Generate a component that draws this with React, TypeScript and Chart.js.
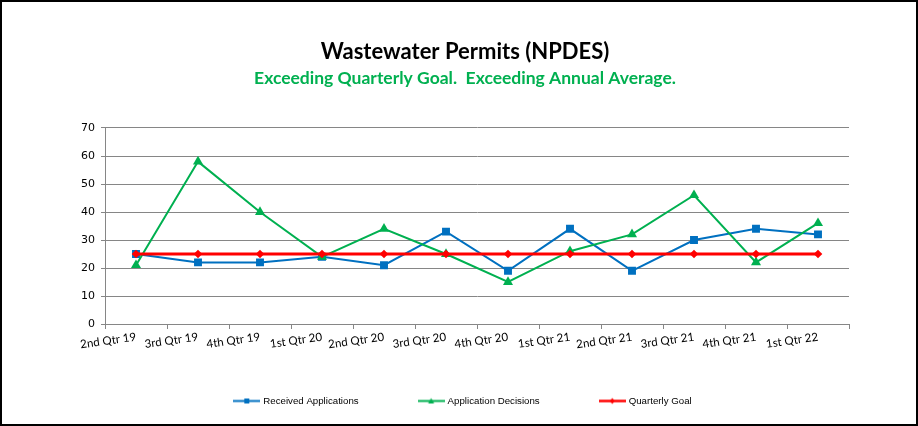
import React, { useEffect, useRef } from 'react';
import { Chart, registerables } from 'chart.js';

Chart.register(...registerables);

const categories = ['2nd Qtr 19', '3rd Qtr 19', '4th Qtr 19', '1st Qtr 20', '2nd Qtr 20', '3rd Qtr 20', '4th Qtr 20', '1st Qtr 21', '2nd Qtr 21', '3rd Qtr 21', '4th Qtr 21', '1st Qtr 22'];
const receivedApplications = [25, 22, 22, 24, 21, 33, 19, 34, 19, 30, 34, 32];
const applicationDecisions = [21, 58, 40, 24, 34, 25, 15, 26, 32, 46, 22, 36];
const quarterlyGoal = [25, 25, 25, 25, 25, 25, 25, 25, 25, 25, 25, 25];
const yMin = 0;
const yMax = 70;
const yStep = 10;

const BLUE = '#0070C0';
const GREEN = '#00B050';
const RED = '#FF0000';
const GRID = '#868686';

function makeMarker(color: string, lineWidth: number, shape: string) {
  const c = document.createElement('canvas');
  c.width = 27;
  c.height = 9;
  const ctx = c.getContext('2d')!;
  ctx.strokeStyle = color;
  ctx.lineWidth = lineWidth;
  ctx.beginPath();
  ctx.moveTo(0, 4.5);
  ctx.lineTo(27, 4.5);
  ctx.stroke();
  ctx.fillStyle = color;
  ctx.beginPath();
  if (shape === 'square') {
    ctx.rect(11, 2, 5, 5);
  } else if (shape === 'triangle') {
    ctx.moveTo(13.5, 1.5);
    ctx.lineTo(16.5, 7);
    ctx.lineTo(10.5, 7);
    ctx.closePath();
  } else {
    ctx.moveTo(13.5, 1.5);
    ctx.lineTo(16, 4.5);
    ctx.lineTo(13.5, 7.5);
    ctx.lineTo(11, 4.5);
    ctx.closePath();
  }
  ctx.fill();
  return c;
}

const framePlugin = {
  id: 'frameBorder',
  beforeDraw(chart: any) {
    const ctx = chart.ctx;
    ctx.save();
    ctx.fillStyle = '#ffffff';
    ctx.fillRect(0, 0, chart.width, chart.height);
    ctx.restore();
  },
  afterDraw(chart: any) {
    const ctx = chart.ctx;
    ctx.save();
    ctx.strokeStyle = '#000000';
    ctx.lineWidth = 2;
    ctx.strokeRect(1, 1, chart.width - 2, chart.height - 2);
    ctx.restore();
  },
};

// Legend drawn in a plugin: marker (27px) + text, items separated by a wide gap, centred.
function makeLegendPlugin(markers: HTMLCanvasElement[]) {
  return {
    id: 'wideLegend',
    afterDraw(chart: any) {
      const ctx = chart.ctx;
      const datasets = chart.data.datasets;
      const gap = 59;
      const markerW = 27;
      const textGap = 3;
      const centerX = chart.width / 2 + 3.5;
      const y = chart.height - 25;
      ctx.save();
      ctx.font = '9.7px "Liberation Sans"';
      ctx.textBaseline = 'middle';
      ctx.textAlign = 'left';
      ctx.fillStyle = '#000000';
      const widths = datasets.map((d: any) => markerW + textGap + ctx.measureText(d.label).width);
      const total = widths.reduce((a: number, b: number) => a + b, 0) + gap * (datasets.length - 1);
      let x = centerX - total / 2;
      datasets.forEach((d: any, i: number) => {
        ctx.drawImage(markers[i], x, y - 4.5);
        ctx.fillText(d.label, x + markerW + textGap, y);
        x += widths[i] + gap;
      });
      ctx.restore();
    },
  };
}

export default function App() {
  const ref = useRef<HTMLCanvasElement>(null);

  useEffect(() => {
    const markers = [
      makeMarker(BLUE, 2, 'square'),
      makeMarker(GREEN, 2, 'triangle'),
      makeMarker(RED, 2.5, 'diamond'),
    ];
    const chart = new Chart(ref.current!, {
      type: 'line',
      data: {
        labels: categories,
        datasets: [
          {
            label: 'Received Applications',
            data: receivedApplications,
            borderColor: BLUE,
            backgroundColor: BLUE,
            borderWidth: 2,
            pointStyle: 'rect',
            pointRadius: 5.6,
            pointBorderWidth: 0,
            tension: 0,
            order: 3,
          },
          {
            label: 'Application Decisions',
            data: applicationDecisions,
            borderColor: GREEN,
            backgroundColor: GREEN,
            borderWidth: 2,
            pointStyle: 'triangle',
            pointRadius: 5.8,
            pointBorderWidth: 0,
            tension: 0,
            order: 2,
          },
          {
            label: 'Quarterly Goal',
            data: quarterlyGoal,
            borderColor: RED,
            backgroundColor: RED,
            borderWidth: 3,
            pointStyle: 'rectRot',
            pointRadius: 4.3,
            pointBorderWidth: 0,
            tension: 0,
            order: 1,
          },
        ],
      },
      options: {
        responsive: false,
        animation: false,
        layout: { padding: { left: 12, right: 0, top: 0, bottom: 62 } },
        plugins: {
          title: {
            display: true,
            text: 'Wastewater Permits (NPDES)',
            color: '#000000',
            font: { family: 'Lato', size: 22, weight: 'bold' },
            padding: { top: 38.8, bottom: 0 },
          },
          subtitle: {
            display: true,
            text: 'Exceeding Quarterly Goal.  Exceeding Annual Average.',
            color: GREEN,
            font: { family: 'Lato', size: 17.5, weight: 'bold' },
            padding: { top: 2.3, bottom: 39.5 },
          },
          legend: { display: false },
          tooltip: { enabled: false },
        },
        scales: {
          x: {
            offset: true,
            afterFit: (s: any) => { s.height = 40; },
            grid: {
              offset: true,
              drawOnChartArea: false,
              drawTicks: true,
              tickLength: 5,
              color: GRID,
            },
            border: { display: true, color: GRID, width: 1 },
            ticks: {
              autoSkip: false,
              minRotation: 8,
              maxRotation: 8,
              padding: 1,
              color: '#000000',
              font: { family: 'Lato', size: 11.5 },
            },
          },
          y: {
            min: yMin,
            max: yMax,
            afterFit: (s: any) => { s.width = 93; },
            grid: { color: GRID, tickLength: 4, drawTicks: true },
            border: { display: true, color: GRID, width: 1 },
            ticks: {
              stepSize: yStep,
              padding: 6,
              color: '#000000',
              font: { family: 'DejaVu Sans', size: 11 },
            },
          },
          y2: {
            position: 'right',
            display: true,
            afterFit: (s: any) => { s.width = 69; },
            grid: { display: false, drawTicks: false },
            border: { display: false },
            ticks: { display: false },
          },
        },
      },
      plugins: [framePlugin, makeLegendPlugin(markers)],
    } as any);
    return () => chart.destroy();
  }, []);

  return (
    <div style={{ position: 'absolute', left: 0, top: 0, width: 918, height: 426 }}>
      <canvas ref={ref} width={918} height={426} style={{ display: 'block', width: 918, height: 426 }} />
    </div>
  );
}
